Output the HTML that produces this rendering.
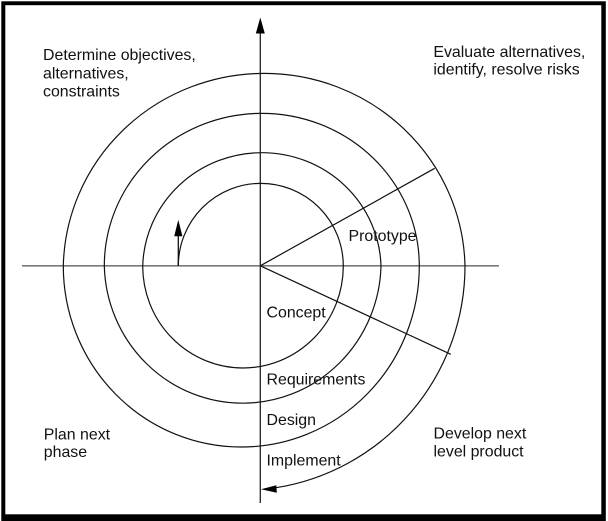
<!DOCTYPE html>
<html>
<head>
<meta charset="utf-8">
<style>
  html, body { margin: 0; padding: 0; background: #fff; }
  body { width: 608px; height: 521px; overflow: hidden; }
  svg { display: block; }
  text { font-family: "Liberation Sans", Arial, Helvetica, sans-serif; font-size: 15.9px; fill: #111; }
</style>
</head>
<body>
<svg width="608" height="521" viewBox="0 0 608 521" xmlns="http://www.w3.org/2000/svg">
  <!-- frame -->
  <rect x="0" y="0" width="608" height="521" fill="#fff"/>
  <rect x="1.3" y="1.3" width="604.5" height="520" fill="#000"/>
  <rect x="5.3" y="5.2" width="596" height="509.1" fill="#fff"/>

  <!-- horizontal axis -->
  <line x1="22" y1="265.8" x2="499" y2="265.8" stroke="#7a7a7a" stroke-width="1.6"/>

  <!-- vertical axis -->
  <line x1="260.3" y1="30" x2="260.3" y2="503" stroke="#222" stroke-width="1.3"/>
  <polygon points="260.3,17.5 255.8,33.5 264.8,33.5" fill="#000"/>

  <!-- radial lines -->
  <line x1="260.3" y1="265.8" x2="434.7" y2="168.3" stroke="#111" stroke-width="1.2"/>
  <line x1="260.3" y1="265.8" x2="450.8" y2="354.3" stroke="#111" stroke-width="1.2"/>

  <!-- spiral -->
  <path d="M 178.3 266
           A 82.5 82.7 0 0 1 343.3 266
           A 100.3 102 0 0 1 142.7 266
           A 119.2 116.7 0 0 1 381 266
           A 138.4 141 0 0 1 104.3 266
           A 157.5 152.7 0 0 1 419.3 266
           A 178 181 0 0 1 63.3 266
           A 200.9 197 0 0 1 465 266
           A 224 224.5 0 0 1 276 487.7"
        fill="none" stroke="#111" stroke-width="1.2"/>

  <!-- small start arrow -->
  <line x1="178.3" y1="266" x2="178.3" y2="234" stroke="#111" stroke-width="1.3"/>
  <polygon points="178.3,219.8 174.2,236.2 182.4,236.2" fill="#000"/>

  <!-- bottom arrowhead -->
  <polygon points="261,489.3 276.3,485.2 276.8,492.8" fill="#000"/>

  <!-- labels -->
  <text x="43" y="60">Determine objectives,</text>
  <text x="43" y="78.3">alternatives,</text>
  <text x="43" y="96.7">constraints</text>

  <text x="433.4" y="56.8">Evaluate alternatives,</text>
  <text x="433.4" y="74.6">identify, resolve risks</text>

  <text x="348.5" y="241">Prototype</text>

  <text x="266.5" y="317.7">Concept</text>
  <text x="266.5" y="384.3">Requirements</text>
  <text x="266.5" y="424.8">Design</text>
  <text x="266.5" y="465.5">Implement</text>

  <text x="43.8" y="439.3">Plan next</text>
  <text x="43.8" y="457">phase</text>

  <text x="433.5" y="438.3">Develop next</text>
  <text x="433.5" y="456.5">level product</text>
</svg>
</body>
</html>
